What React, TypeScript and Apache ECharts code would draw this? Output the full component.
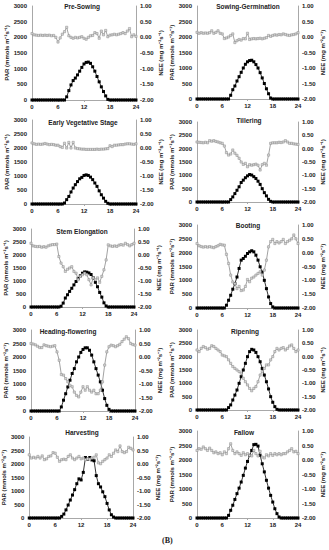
import React, { useEffect, useRef } from "react";
import * as echarts from "echarts";

const HOURS = [0, 0.5, 1, 1.5, 2, 2.5, 3, 3.5, 4, 4.5, 5, 5.5, 6, 6.5, 7, 7.5, 8, 8.5, 9, 9.5, 10, 10.5, 11, 11.5, 12, 12.5, 13, 13.5, 14, 14.5, 15, 15.5, 16, 16.5, 17, 17.5, 18, 18.5, 19, 19.5, 20, 20.5, 21, 21.5, 22, 22.5, 23, 23.5, 24];

const TITLES = ["Pre-Sowing", "Sowing-Germination", "Early Vegetative Stage", "Tillering", "Stem Elongation", "Booting", "Heading-flowering", "Ripening", "Harvesting", "Fallow"];

const X_TICKS = [0, 6, 12, 18, 24];
const PAR_TICKS = [0, 500, 1000, 1500, 2000, 2500, 3000];
const NEE_TICKS = [-2, -1.5, -1, -0.5, 0, 0.5, 1];

// PAR (mmols m-2 s-1), half-hourly 0..24 h
const PAR_PRE_SOWING = [0, 0, 0, 0, 0, 0, 0, 0, 0, 0, 0, 0, 0, 0, 0, 0, 100, 300, 480, 620, 700, 800, 920, 1040, 1150, 1200, 1210, 1170, 1060, 920, 750, 580, 420, 270, 130, 20, 0, 0, 0, 0, 0, 0, 0, 0, 0, 0, 0, 0, 0];
const PAR_SOWING = [0, 0, 0, 0, 0, 0, 0, 0, 0, 0, 0, 0, 0, 0, 0, 0, 120, 300, 420, 580, 720, 860, 1000, 1120, 1200, 1240, 1250, 1200, 1110, 1000, 850, 680, 500, 330, 170, 30, 0, 0, 0, 0, 0, 0, 0, 0, 0, 0, 0, 0, 0];
const PAR_EARLY_VEG = [0, 0, 0, 0, 0, 0, 0, 0, 0, 0, 0, 0, 0, 0, 0, 35, 155, 270, 430, 570, 690, 800, 900, 950, 1020, 1040, 1020, 960, 870, 750, 630, 470, 330, 210, 95, 25, 0, 0, 0, 0, 0, 0, 0, 0, 0, 0, 0, 0, 0];
const PAR_TILLERING = [0, 0, 0, 0, 0, 0, 0, 0, 0, 0, 0, 0, 0, 0, 0, 0, 90, 190, 315, 440, 570, 730, 820, 910, 980, 1030, 1010, 950, 880, 780, 660, 500, 350, 230, 100, 25, 0, 0, 0, 0, 0, 0, 0, 0, 0, 0, 0, 0, 0];
const PAR_STEM = [0, 0, 0, 0, 0, 0, 0, 0, 0, 0, 0, 0, 0, 0, 30, 150, 345, 470, 600, 720, 850, 980, 1100, 1200, 1300, 1350, 1340, 1310, 1250, 1120, 950, 780, 560, 380, 160, 40, 0, 0, 0, 0, 0, 0, 0, 0, 0, 0, 0, 0, 0];
const PAR_BOOTING = [0, 0, 0, 0, 0, 0, 0, 0, 0, 0, 0, 0, 0, 0, 100, 280, 460, 680, 880, 1120, 1430, 1730, 1790, 1870, 1970, 2030, 2070, 2030, 1910, 1730, 1490, 1300, 1000, 700, 400, 160, 40, 0, 0, 0, 0, 0, 0, 0, 0, 0, 0, 0, 0];
const PAR_HEADING = [0, 0, 0, 0, 0, 0, 0, 0, 0, 0, 0, 0, 0, 0, 150, 400, 640, 890, 1140, 1390, 1570, 1820, 2000, 2170, 2280, 2340, 2340, 2250, 2070, 1820, 1570, 1330, 1080, 770, 460, 210, 60, 0, 0, 0, 0, 0, 0, 0, 0, 0, 0, 0, 0];
const PAR_RIPENING = [0, 0, 0, 0, 0, 0, 0, 0, 0, 0, 0, 0, 0, 0, 0, 90, 190, 375, 560, 750, 1000, 1250, 1500, 1750, 2000, 2190, 2275, 2250, 2160, 2000, 1810, 1560, 1310, 1060, 790, 500, 290, 125, 25, 0, 0, 0, 0, 0, 0, 0, 0, 0, 0];
const PAR_HARVESTING = [0, 0, 0, 0, 0, 0, 0, 0, 0, 0, 0, 0, 0, 0, 0, 60, 145, 300, 480, 665, 850, 1050, 1270, 1450, 1410, 1690, 2240, 2180, 2240, 2150, 2120, 1570, 1270, 1150, 970, 790, 540, 300, 120, 35, 0, 0, 0, 0, 0, 0, 0, 0, 0];
const PAR_FALLOW = [0, 0, 0, 0, 0, 0, 0, 0, 0, 0, 0, 0, 0, 0, 0, 90, 265, 440, 640, 840, 1030, 1240, 1470, 1720, 1950, 2160, 2330, 2530, 2540, 2480, 2160, 1870, 1590, 1300, 1030, 780, 550, 320, 150, 35, 0, 0, 0, 0, 0, 0, 0, 0, 0];

// NEE (mg m-2 s-1), half-hourly 0..24 h
const NEE_PRE_SOWING = [0.12, 0.08, 0.07, 0.06, 0.07, 0.06, 0.07, 0.06, 0.07, 0.05, 0.06, 0.0, -0.15, -0.02, 0.1, 0.18, 0.32, 0.05, 0.0, -0.03, 0.0, -0.02, 0.0, 0.02, -0.03, -0.06, 0.0, 0.05, 0.06, 0.15, 0.12, -0.03, 0.2, 0.08, 0.22, 0.02, 0.07, 0.08, 0.1, 0.08, 0.1, 0.12, 0.15, 0.12, 0.2, 0.28, 0.02, 0.08, 0.03];
const NEE_SOWING = [0.15, 0.12, 0.14, 0.12, 0.13, 0.12, 0.14, 0.2, 0.12, 0.15, 0.2, 0.12, 0.1, -0.05, -0.03, 0.0, 0.05, 0.1, -0.18, -0.12, -0.08, -0.1, -0.05, -0.06, 0.12, -0.08, -0.06, -0.05, -0.06, -0.05, -0.04, -0.06, -0.04, -0.02, 0.05, 0.02, 0.05, 0.07, 0.06, 0.08, 0.07, 0.1, 0.08, 0.06, 0.05, 0.07, 0.08, 0.1, 0.14];
const NEE_EARLY_VEG = [0.18, 0.15, 0.13, 0.14, 0.13, 0.14, 0.16, 0.14, 0.12, 0.13, 0.12, 0.1, 0.1, 0.05, 0.02, 0.17, 0.0, 0.2, 0.0, 0.2, 0.0, -0.02, -0.03, -0.04, -0.04, -0.05, -0.05, -0.05, -0.05, -0.05, -0.04, -0.05, -0.04, -0.04, -0.03, -0.02, 0.08, 0.05, 0.1, 0.1, 0.11, 0.12, 0.12, 0.14, 0.15, 0.15, 0.14, 0.13, 0.15];
const NEE_TILLERING = [0.25, 0.24, 0.23, 0.22, 0.24, 0.22, 0.3, 0.28, 0.3, 0.27, 0.25, 0.22, 0.2, 0.1, -0.15, -0.24, -0.2, -0.05, -0.17, -0.25, -0.36, -0.5, -0.59, -0.55, -0.68, -0.6, -0.62, -0.6, -0.58, -0.62, -0.8, -0.6, -0.55, -0.62, -0.24, 0.2, 0.22, 0.22, 0.22, 0.24, 0.23, 0.25, 0.3, 0.25, 0.2, 0.2, 0.18, 0.17, 0.16];
const NEE_STEM = [0.45, 0.35, 0.33, 0.32, 0.33, 0.3, 0.32, 0.3, 0.35, 0.38, 0.4, 0.4, 0.42, -0.06, -0.31, -0.45, -0.63, -0.55, -0.5, -0.45, -0.63, -0.7, -0.95, -0.82, -0.76, -0.7, -0.76, -0.95, -1.15, -0.88, -0.95, -0.88, -1.05, -0.82, -0.57, -0.19, 0.39, 0.35, 0.33, 0.35, 0.33, 0.38, 0.4, 0.38, 0.45, 0.4, 0.35, 0.4, 0.45];
const NEE_BOOTING = [0.33, 0.25, 0.22, 0.2, 0.22, 0.2, 0.22, 0.2, 0.18, 0.22, 0.25, 0.3, 0.28, 0.27, -0.06, -0.39, -0.81, -1.06, -1.12, -1.3, -1.22, -1.37, -1.35, -1.22, -0.97, -1.05, -0.92, -0.88, -0.81, -0.75, -0.69, -0.81, -0.63, -0.27, 0.21, 0.4, 0.48, 0.33, 0.4, 0.35, 0.4, 0.48, 0.33, 0.4, 0.45, 0.5, 0.64, 0.5, 0.33];
const NEE_HEADING = [0.5, 0.48, 0.45, 0.4, 0.35, 0.35, 0.45, 0.42, 0.4, 0.38, 0.4, 0.42, 0.19, -0.12, -0.65, -0.67, -0.8, -0.92, -1.05, -1.1, -1.3, -1.42, -1.48, -1.3, -1.1, -1.23, -1.1, -1.23, -1.3, -1.23, -1.36, -1.36, -1.23, -0.92, -0.3, 0.19, 0.38, 0.44, 0.42, 0.38, 0.42, 0.47, 0.57, 0.66, 0.75, 0.68, 0.5, 0.46, 0.44];
const NEE_RIPENING = [0.25, 0.19, 0.31, 0.38, 0.34, 0.28, 0.31, 0.41, 0.38, 0.31, 0.25, 0.19, 0.06, 0.03, 0.0, -0.12, -0.25, -0.37, -0.44, -0.5, -0.56, -0.62, -0.81, -0.94, -1.06, -1.19, -1.28, -1.19, -1.12, -0.94, -0.69, -0.56, -0.44, -0.31, -0.31, -0.12, 0.0, 0.19, 0.31, 0.25, 0.31, 0.34, 0.25, 0.31, 0.4, 0.44, 0.31, 0.19, 0.25];
const NEE_HARVESTING = [0.34, 0.22, 0.25, 0.22, 0.28, 0.22, 0.3, 0.16, 0.19, 0.28, 0.3, 0.42, 0.4, 0.25, 0.1, 0.16, 0.18, 0.16, 0.28, 0.34, 0.22, 0.16, 0.22, 0.28, 0.19, 0.22, 0.16, 0.19, 0.18, 0.22, 0.25, 0.34, 0.04, 0.01, 0.1, 0.16, 0.22, 0.34, 0.28, 0.4, 0.52, 0.46, 0.67, 0.46, 0.42, 0.46, 0.62, 0.58, 0.52];
const NEE_FALLOW = [0.33, 0.39, 0.37, 0.45, 0.39, 0.33, 0.41, 0.33, 0.25, 0.28, 0.22, 0.25, 0.18, 0.28, 0.22, 0.39, 0.56, 0.33, 0.22, 0.28, 0.22, 0.16, 0.25, 0.18, 0.22, 0.16, 0.14, 0.33, 0.22, 0.14, 0.3, 0.1, 0.07, 0.18, 0.14, 0.22, 0.16, 0.22, 0.18, 0.22, 0.18, 0.22, 0.22, 0.28, 0.33, 0.39, 0.28, 0.3, 0.22];

const PAR_ALL = [PAR_PRE_SOWING, PAR_SOWING, PAR_EARLY_VEG, PAR_TILLERING, PAR_STEM, PAR_BOOTING, PAR_HEADING, PAR_RIPENING, PAR_HARVESTING, PAR_FALLOW];
const NEE_ALL = [NEE_PRE_SOWING, NEE_SOWING, NEE_EARLY_VEG, NEE_TILLERING, NEE_STEM, NEE_BOOTING, NEE_HEADING, NEE_RIPENING, NEE_HARVESTING, NEE_FALLOW];

// layout: [left, top, width, height, titleX, titleY]
const LAYOUT = [
  [32, 6, 104, 94, 82, 7],
  [197, 6, 101, 93, 248, 7],
  [32, 120, 104, 84, 83, 123],
  [197, 122, 101, 80, 249, 121],
  [31, 229, 103, 78, 82, 232],
  [197, 225, 101, 83, 248, 226],
  [31, 330, 104, 81, 68, 332],
  [197, 330, 101, 80, 245, 332],
  [28, 437, 105, 81, 82, 433],
  [197, 431, 101, 87, 244, 433],
];

const LABEL_FONT = "Liberation Sans, Arial, sans-serif";

export default function App() {
  const ref = useRef<HTMLDivElement>(null);
  useEffect(() => {
    if (!ref.current) return;
    const chart = echarts.init(ref.current, undefined, { renderer: "svg" });
    const grid: any[] = [];
    const xAxis: any[] = [];
    const yAxis: any[] = [];
    const series: any[] = [];
    const title: any[] = [];
    const axisLine = { show: true, lineStyle: { color: "#a8a8a8", width: 1 } };
    const lbl = { fontSize: 6, fontWeight: "bold", color: "#222", fontFamily: LABEL_FONT };
    const nameStyle = { fontSize: 6, fontWeight: "bold", color: "#222", fontFamily: LABEL_FONT };
    LAYOUT.forEach((L, i) => {
      const [left, top, width, height, tx, ty] = L;
      grid.push({ left, top, width, height, containLabel: false });
      xAxis.push({
        type: "value", gridIndex: i, min: X_TICKS[0], max: X_TICKS[X_TICKS.length - 1], interval: X_TICKS[1] - X_TICKS[0],
        axisLine, axisTick: { show: true, length: 2, lineStyle: { color: "#a8a8a8" } }, splitLine: { show: false },
        axisLabel: { ...lbl, margin: 4 },
      });
      yAxis.push({
        type: "value", gridIndex: i, position: "left", min: PAR_TICKS[0], max: PAR_TICKS[PAR_TICKS.length - 1], interval: PAR_TICKS[1] - PAR_TICKS[0],
        axisLine, axisTick: { show: false }, splitLine: { show: false },
        axisLabel: { ...lbl, margin: 5, formatter: (v: number) => String(v) },
        name: "PAR (mmols m\u207B\u00B2s\u207B\u00B9)", nameLocation: "middle", nameGap: 22, nameRotate: 90, nameTextStyle: nameStyle,
      });
      yAxis.push({
        type: "value", gridIndex: i, position: "right", min: NEE_TICKS[0], max: NEE_TICKS[NEE_TICKS.length - 1], interval: NEE_TICKS[1] - NEE_TICKS[0],
        axisLine, axisTick: { show: false }, splitLine: { show: false },
        axisLabel: { ...lbl, margin: 4, formatter: (v: number) => v.toFixed(2) },
        name: "NEE (mg m\u207B\u00B2s\u207B\u00B9)", nameLocation: "middle", nameGap: 21, nameRotate: 90, nameTextStyle: nameStyle,
      });
      series.push({
        type: "line", xAxisIndex: i, yAxisIndex: i * 2,
        data: HOURS.map((h, k) => [h, PAR_ALL[i][k]]),
        symbol: "rect", symbolSize: 3, showSymbol: true,
        lineStyle: { color: "#000", width: 0.8 }, itemStyle: { color: "#000" }, z: 2,
      });
      series.push({
        type: "line", xAxisIndex: i, yAxisIndex: i * 2 + 1,
        data: HOURS.map((h, k) => [h, NEE_ALL[i][k]]),
        symbol: "rect", symbolSize: 2.2, showSymbol: true,
        lineStyle: { color: "#8a8a8a", width: 0.8 }, itemStyle: { color: "#d8d8d8", borderColor: "#8a8a8a", borderWidth: 0.5 }, z: 3,
      });
      title.push({
        text: TITLES[i], left: tx, top: ty - 4, textAlign: "center",
        textStyle: { fontSize: 6.5, fontWeight: "bold", color: "#222", fontFamily: LABEL_FONT },
        padding: 0,
      });
    });
    chart.setOption({
      animation: false,
      backgroundColor: "#fff",
      title,
      grid, xAxis, yAxis, series,
      graphic: [
        { type: "text", x: 162, y: 536, style: { text: "(B)", font: "bold 8px 'Liberation Serif', serif", fill: "#222" } },
      ],
    });
    return () => chart.dispose();
  }, []);
  return <div ref={ref} style={{ position: "fixed", left: 0, top: 0, width: 329, height: 550 }} />;
}
